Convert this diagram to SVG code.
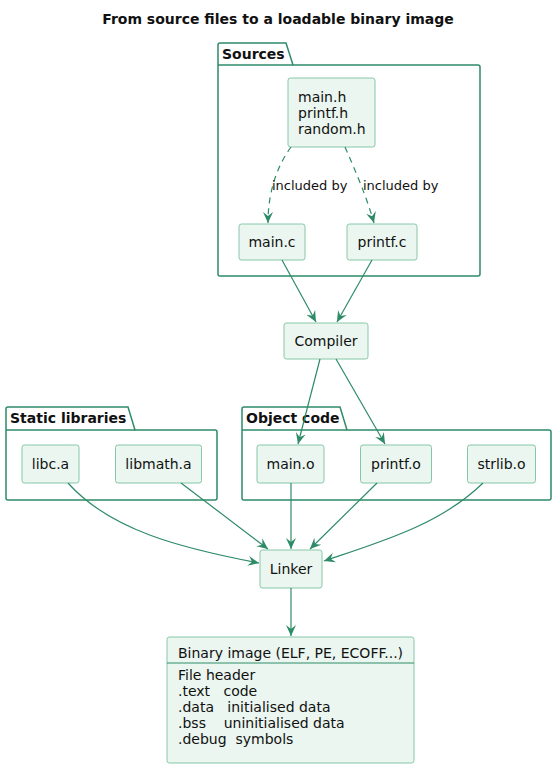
<svg xmlns="http://www.w3.org/2000/svg" width="557" height="768" viewBox="0 0 557 768">
<style>
text{font-family:"DejaVu Sans","Liberation Sans",sans-serif;font-size:14px;fill:#111}
.title{font-weight:bold;font-size:14px}
.pkg{fill:none;stroke:#2E8B68;stroke-width:1.5}
.pname{font-weight:bold;font-size:14px}
.node{fill:#EAF6EF;stroke:#86C7A8;stroke-width:1}
.edge{fill:none;stroke:#2E8B68;stroke-width:1.2}
.dash{stroke-dasharray:6 5}
.lbl{font-size:13px}
</style>
<defs>
<marker id="arr" viewBox="0 0 12 12" refX="11" refY="6" markerWidth="12" markerHeight="12" markerUnits="userSpaceOnUse" orient="auto">
<path d="M0,1 L11,6 L0,11 L4,6 Z" fill="#2E8B68"/>
</marker>
</defs>
<text class="title" x="278" y="24" text-anchor="middle">From source files to a loadable binary image</text>

<g id="pkg-sources">
<path class="pkg" d="M218,65 V45 Q218,43 220,43 H286 L293,65 H478 Q480,65 480,67 V274 Q480,276 478,276 H220 Q218,276 218,274 Z"/>
<line class="pkg" x1="218" y1="65" x2="293" y2="65"/>
<text class="pname" x="222" y="59">Sources</text>
</g>
<g id="pkg-static">
<path class="pkg" d="M6,430 V409 Q6,407 8,407 H128 L135,430 H215 Q217,430 217,432 V498 Q217,500 215,500 H8 Q6,500 6,498 Z"/>
<line class="pkg" x1="6" y1="430" x2="135" y2="430"/>
<text class="pname" x="10" y="423">Static libraries</text>
</g>
<g id="pkg-object">
<path class="pkg" d="M242,430 V409 Q242,407 244,407 H340 L347,430 H549 Q551,430 551,432 V498 Q551,500 549,500 H244 Q242,500 242,498 Z"/>
<line class="pkg" x1="242" y1="430" x2="347" y2="430"/>
<text class="pname" x="246" y="423">Object code</text>
</g>

<g id="headers">
<rect class="node" x="288" y="78" width="87" height="69" rx="2.5"/>
<text x="298" y="102">main.h</text>
<text x="298" y="118">printf.h</text>
<text x="298" y="134">random.h</text>
</g>
<g id="main-c">
<rect class="node" x="239" y="224" width="66" height="36" rx="2.5"/>
<text x="272" y="247" text-anchor="middle">main.c</text>
</g>
<g id="printf-c">
<rect class="node" x="347" y="224" width="70" height="36" rx="2.5"/>
<text x="382" y="247" text-anchor="middle">printf.c</text>
</g>
<g id="compiler">
<rect class="node" x="284" y="323" width="84" height="36" rx="2.5"/>
<text x="326" y="346" text-anchor="middle">Compiler</text>
</g>
<g id="libc">
<rect class="node" x="22" y="445" width="57" height="38" rx="2.5"/>
<text x="50.5" y="469" text-anchor="middle">libc.a</text>
</g>
<g id="libmath">
<rect class="node" x="115.5" y="445" width="86" height="38" rx="2.5"/>
<text x="158.5" y="469" text-anchor="middle">libmath.a</text>
</g>
<g id="main-o">
<rect class="node" x="257" y="445" width="67" height="38" rx="2.5"/>
<text x="290.5" y="469" text-anchor="middle">main.o</text>
</g>
<g id="printf-o">
<rect class="node" x="360.5" y="445" width="71" height="38" rx="2.5"/>
<text x="396" y="469" text-anchor="middle">printf.o</text>
</g>
<g id="strlib-o">
<rect class="node" x="467.5" y="445" width="68" height="38" rx="2.5"/>
<text x="501.5" y="469" text-anchor="middle">strlib.o</text>
</g>
<g id="linker">
<rect class="node" x="260" y="550" width="62" height="38" rx="2.5"/>
<text x="291" y="574" text-anchor="middle">Linker</text>
</g>
<g id="binary">
<rect class="node" x="167" y="637" width="247" height="126" rx="2.5"/>
<line x1="167" y1="663" x2="414" y2="663" stroke="#2E8B68" stroke-width="1.2"/>
<text x="178" y="658">Binary image (ELF, PE, ECOFF...)</text>
<text x="178" y="680">File header</text>
<text x="178" y="696" xml:space="preserve">.text   code</text>
<text x="178" y="712" xml:space="preserve">.data   initialised data</text>
<text x="178" y="728" xml:space="preserve">.bss    uninitialised data</text>
<text x="178" y="744" xml:space="preserve">.debug  symbols</text>
</g>

<g id="connectors">
<path class="edge dash" d="M291,147 C278,165 268,190 268,223" marker-end="url(#arr)"/>
<text class="lbl" x="272" y="190">included by</text>
<path class="edge dash" d="M345,147 C355,170 366,195 374,223" marker-end="url(#arr)"/>
<text class="lbl" x="363" y="190">included by</text>
<path class="edge" d="M282,260 L316,322" marker-end="url(#arr)"/>
<path class="edge" d="M372,260 L337,322" marker-end="url(#arr)"/>
<path class="edge" d="M320,359 L298,444" marker-end="url(#arr)"/>
<path class="edge" d="M336,359 L385,444" marker-end="url(#arr)"/>
<path class="edge" d="M68,483 C110,530 180,548 259,563" marker-end="url(#arr)"/>
<path class="edge" d="M181,483 L268,549" marker-end="url(#arr)"/>
<path class="edge" d="M291,483 L291,549" marker-end="url(#arr)"/>
<path class="edge" d="M377,483 L310,549" marker-end="url(#arr)"/>
<path class="edge" d="M483,483 C440,525 380,542 324,561" marker-end="url(#arr)"/>
<path class="edge" d="M291,588 L291,636" marker-end="url(#arr)"/>
</g>
</svg>
